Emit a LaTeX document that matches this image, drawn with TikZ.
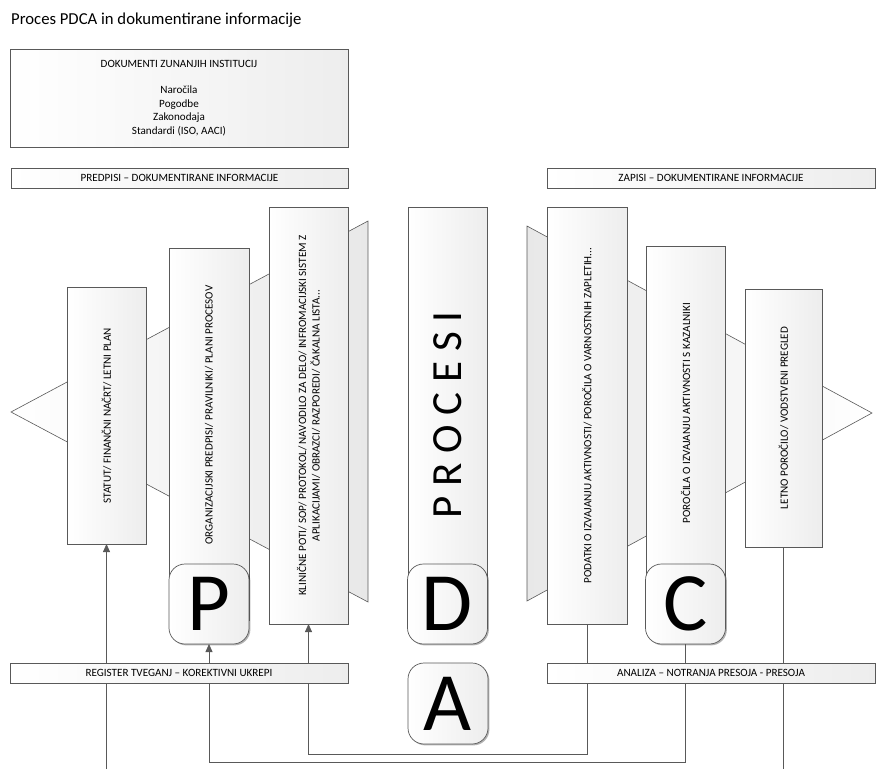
\documentclass[tikz,border=0pt]{standalone}
\usepackage{fontspec}
\setmainfont{Carlito}
\usetikzlibrary{shadows,arrows.meta}
\begin{document}
\begin{tikzpicture}[x=1pt,y=-1pt,
  outl/.style={draw=black!65, line width=0.7pt},
  box/.style={outl, left color=white, right color=black!7, inner sep=0pt, outer sep=0pt,
    drop shadow={shadow xshift=1.4pt, shadow yshift=-1.4pt, fill=black, opacity=0.3}},
  letterbox/.style={box, rounded corners=16pt, minimum width=80pt, minimum height=80pt,
    font=\fontsize{83}{83}\selectfont},
  coltext/.style={rotate=90, font=\fontsize{11.1}{13.5}\selectfont, align=center, inner sep=0pt},
  bartext/.style={font=\fontsize{11.1}{13.5}\selectfont},
  conn/.style={draw=black!65, line width=0.8pt},
  tip/.style={-{Triangle[width=7pt,length=8pt]}},
  bigtri/.style={outl, line width=0.6pt}
]
\useasboundingbox (0,0) rectangle (876,769);

% title
\node[anchor=west, inner sep=0pt, font=\fontsize{16.7}{19}\selectfont] (title) at (11,20) {Proces PDCA in dokumentirane informacije};

% external documents box
\node[box, minimum width=338pt, minimum height=98pt] (ext) at (179,98) {};
\node[bartext] (extT) at (179,64) {DOKUMENTI ZUNANJIH INSTITUCIJ};
\node[bartext, align=center, font=\fontsize{11.1}{13.7}\selectfont] (extL) at (179,111) {Naročila\\Pogodbe\\Zakonodaja\\Standardi (ISO, AACI)};

% header bars
\node[box, minimum width=337pt, minimum height=20pt, bartext] (pred) at (179.5,178) {PREDPISI – DOKUMENTIRANE INFORMACIJE};
\node[box, minimum width=328pt, minimum height=20pt, bartext] (zap) at (711,178) {ZAPISI – DOKUMENTIRANE INFORMACIJE};

% big background triangles
\path[bigtri, left color=white, right color=black!9] (11,412) -- (368,221) -- (368,602) -- cycle;
\path[bigtri, left color=black!9, right color=white] (872,413) -- (527,226) -- (527,601) -- cycle;

% left columns
\node[box, minimum width=79pt, minimum height=257pt] (b1) at (106.5,415.5) {};
\node[coltext] (b1t) at (b1.center) {STATUT/ FINANČNI NAČRT/ LETNI PLAN};
\node[box, minimum width=80pt, minimum height=372pt] (b2) at (209,434) {};
\node[coltext] (b2t) at (209,415) {ORGANIZACIJSKI PREDPISI/ PRAVILNIKI/ PLANI PROCESOV};
\node[box, minimum width=79pt, minimum height=417pt] (b3) at (308.5,415.5) {};
\node[coltext] (b3t) at (b3.center) {KLINIČNE POTI/ SOP/ PROTOKOL/ NAVODILO ZA DELO/ INFROMACIJSKI SISTEM Z\\APLIKACIJAMI/ OBRAZCI/ RAZPOREDI/ ČAKALNA LISTA...};

% middle column
\node[box, minimum width=79pt, minimum height=413pt] (proc) at (447.5,413.5) {};
\node[rotate=90, inner sep=0pt, font=\fontsize{43}{43}\selectfont] (proct) at (447.5,415) {P R O C E S I};

% right columns
\node[box, minimum width=80pt, minimum height=417pt] (r1) at (587,415.5) {};
\node[coltext] (r1t) at (r1.center) {PODATKI O IZVAJANJU AKTIVNOSTI/ POROČILA O VARNOSTNIH ZAPLETIH...};
\node[box, minimum width=79pt, minimum height=374pt] (r2) at (685.5,433) {};
\node[coltext] (r2t) at (685.5,413) {POROČILA O IZVAJANJU AKTIVNOSTI S KAZALNIKI};
\node[box, minimum width=77pt, minimum height=258pt] (r3) at (783.5,418) {};
\node[coltext] (r3t) at (r3.center) {LETNO POROČILO/ VODSTVENI PREGLED};

% PDCA letter boxes
\node[letterbox] (pbox) at (209,604) {P};
\node[letterbox] (dbox) at (447.5,604) {D};
\node[letterbox] (cbox) at (685.5,604) {C};
\node[letterbox, minimum height=81pt] (abox) at (448,703.5) {A};

% connectors
\coordinate (inL) at (107,769);
\coordinate (outR) at (783,769);
\coordinate (yA) at (0,762);
\coordinate (yB) at (0,754);
\draw[conn, tip] (b1.south |- inL) -- (b1.south);
\draw[conn, tip] (cbox.south) -- (cbox.south |- yA) -| (pbox.south);
\draw[conn, tip] (r1.south) -- (r1.south |- yB) -| (b3.south);
\draw[conn] (r3.south) -- (r3.south |- outR);

% bottom bars
\node[box, minimum width=338pt, minimum height=20pt, bartext] (reg) at (179,673) {REGISTER TVEGANJ – KOREKTIVNI UKREPI};
\node[box, minimum width=328pt, minimum height=20pt, bartext] (ana) at (711,673) {ANALIZA – NOTRANJA PRESOJA - PRESOJA};
\end{tikzpicture}
\end{document}
